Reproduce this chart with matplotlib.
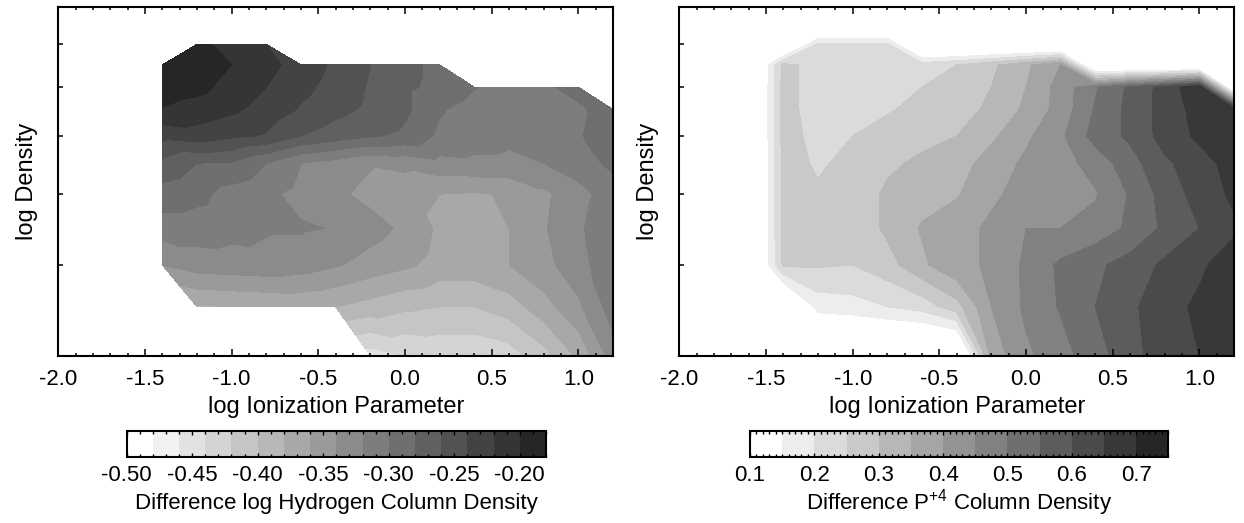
import numpy as np
import matplotlib
matplotlib.use('Agg')
import matplotlib.pyplot as plt
import matplotlib.tri as mtri
import matplotlib.ticker as mticker

plt.rcParams['font.family'] = ['Liberation Sans', 'DejaVu Sans']
plt.rcParams['mathtext.fontset'] = 'custom'
plt.rcParams['mathtext.rm'] = 'Liberation Sans'
plt.rcParams['axes.unicode_minus'] = False

nan = np.nan

# model grid: log U columns and density rows (top to bottom, as axis fraction)
log_u = [-1.4, -1.2, -1.0, -0.8, -0.6, -0.4, -0.2, 0.0, 0.2, 0.4, 0.6, 0.8, 1.0, 1.2]
dens_row = [0.894, 0.835, 0.771, 0.707, 0.631, 0.553, 0.464, 0.366, 0.261, 0.141, 0.0]
dens_ticks = [0.894, 0.771, 0.631, 0.464, 0.261]
xticks = [-2.0, -1.5, -1.0, -0.5, 0.0, 0.5, 1.0]

# difference in log N(H)
h_diff = np.array([
    [nan, -0.194, -0.208, -0.220, nan, nan, nan, nan, nan, nan, nan, nan, nan, nan],
    [-0.184, -0.188, -0.200, -0.214, -0.228, -0.244, -0.260, -0.274, -0.286, nan, nan, nan, nan, nan],
    [-0.190, -0.194, -0.207, -0.220, -0.234, -0.248, -0.262, -0.276, -0.286, -0.299, -0.308, -0.302, -0.296, nan],
    [-0.201, -0.208, -0.216, -0.228, -0.242, -0.254, -0.264, -0.276, -0.298, -0.308, -0.314, -0.312, -0.302, -0.294],
    [-0.234, -0.229, -0.236, -0.242, -0.260, -0.270, -0.278, -0.284, -0.304, -0.312, -0.316, -0.312, -0.301, -0.294],
    [-0.266, -0.280, -0.282, -0.300, -0.320, -0.328, -0.338, -0.334, -0.326, -0.324, -0.324, -0.320, -0.308, -0.296],
    [-0.288, -0.294, -0.308, -0.316, -0.326, -0.336, -0.346, -0.354, -0.360, -0.362, -0.358, -0.344, -0.328, -0.308],
    [-0.310, -0.310, -0.314, -0.318, -0.318, -0.321, -0.332, -0.344, -0.364, -0.366, -0.360, -0.342, -0.324, -0.302],
    [-0.340, -0.330, -0.328, -0.326, -0.330, -0.338, -0.348, -0.356, -0.368, -0.368, -0.360, -0.346, -0.328, -0.304],
    [nan, -0.382, -0.380, -0.378, -0.376, -0.380, -0.388, -0.396, -0.400, -0.400, -0.390, -0.368, -0.344, -0.310],
    [nan, nan, nan, nan, nan, nan, -0.450, -0.440, -0.436, -0.436, -0.430, -0.408, -0.376, -0.330],
])

# difference in P+4 column density
p4_diff = np.array([
    [nan, 0.21, 0.205, 0.21, nan, nan, nan, nan, nan, nan, nan, nan, nan, nan],
    [0.265, 0.23, 0.22, 0.22, 0.225, 0.25, 0.29, 0.34, 0.40, nan, nan, nan, nan, nan],
    [0.27, 0.225, 0.22, 0.225, 0.25, 0.273, 0.30, 0.35, 0.42, 0.495, 0.56, 0.62, 0.69, nan],
    [0.27, 0.225, 0.22, 0.245, 0.265, 0.28, 0.31, 0.36, 0.42, 0.505, 0.565, 0.62, 0.67, 0.69],
    [0.27, 0.235, 0.25, 0.27, 0.285, 0.30, 0.34, 0.39, 0.44, 0.52, 0.56, 0.62, 0.66, 0.68],
    [0.265, 0.245, 0.26, 0.29, 0.31, 0.33, 0.37, 0.41, 0.43, 0.47, 0.53, 0.59, 0.63, 0.67],
    [0.265, 0.255, 0.265, 0.31, 0.33, 0.345, 0.39, 0.42, 0.43, 0.445, 0.505, 0.57, 0.62, 0.66],
    [0.265, 0.26, 0.265, 0.31, 0.355, 0.38, 0.41, 0.45, 0.45, 0.47, 0.51, 0.56, 0.60, 0.64],
    [0.26, 0.255, 0.25, 0.28, 0.34, 0.39, 0.405, 0.46, 0.51, 0.54, 0.57, 0.61, 0.64, 0.68],
    [nan, 0.17, 0.18, 0.20, 0.22, 0.28, 0.40, 0.46, 0.505, 0.55, 0.59, 0.63, 0.66, 0.69],
    [nan, nan, nan, nan, nan, nan, 0.37, 0.44, 0.48, 0.53, 0.58, 0.63, 0.65, 0.69],
])

h_levels = np.linspace(-0.50, -0.18, 17)
p4_levels = np.linspace(0.10, 0.75, 14)
h_ticks = [-0.50, -0.45, -0.40, -0.35, -0.30, -0.25, -0.20]
p4_ticks = [0.1, 0.2, 0.3, 0.4, 0.5, 0.6, 0.7]

# grey ramps, white for the lowest bin
h_colors = [str(g) for g in np.linspace(1.0, 0.15, 16)]
p4_colors = [str(g) for g in np.linspace(1.0, 0.15, 13)]

# zero ring used around the P+4 grid (missing models set to 0)
ring_u = -1.6
ring_row = 0.955


def valid_triangulation(z):
    ok = np.isfinite(z)
    idx = np.full(z.shape, -1)
    idx[ok] = np.arange(ok.sum())
    tris = []
    for j in range(z.shape[0] - 1):
        for i in range(z.shape[1] - 1):
            ring = [idx[j, i], idx[j, i + 1], idx[j + 1, i + 1], idx[j + 1, i]]
            good = [k for k in ring if k >= 0]
            if len(good) == 4:
                tris += [[ring[0], ring[1], ring[2]], [ring[0], ring[2], ring[3]]]
            elif len(good) == 3:
                tris.append(good)
    X, Y = np.meshgrid(log_u, dens_row)
    return mtri.Triangulation(X[ok], Y[ok], tris), z[ok]


fig = plt.figure(figsize=(12.44, 5.23), dpi=100)
ax1 = fig.add_axes([0.0469, 0.3193, 0.4459, 0.6667])
ax2 = fig.add_axes([0.5461, 0.3193, 0.4459, 0.6667])
cax1 = fig.add_axes([0.1018, 0.1262, 0.3371, 0.0497])
cax2 = fig.add_axes([0.6029, 0.1262, 0.3363, 0.0497])

tri, zv = valid_triangulation(h_diff)
cs1 = ax1.tricontourf(tri, zv, levels=h_levels, colors=h_colors)

zr = np.pad(np.nan_to_num(p4_diff, nan=0.0), ((1, 0), (1, 0)))
cs2 = ax2.contourf([ring_u] + log_u, [ring_row] + dens_row, zr,
                   levels=p4_levels, colors=p4_colors)

for ax in (ax1, ax2):
    ax.set_xlim(-2.0, 1.2)
    ax.set_ylim(0, 1)
    ax.set_xticks(xticks)
    ax.xaxis.set_minor_locator(mticker.MultipleLocator(0.1))
    ax.xaxis.set_major_formatter(mticker.FormatStrFormatter('%.1f'))
    ax.set_yticks(dens_ticks)
    ax.set_yticklabels([])
    ax.tick_params(axis='x', which='both', direction='in', top=True, bottom=True,
                   labelsize=16, pad=9, width=1.1)
    ax.tick_params(axis='x', which='major', length=5)
    ax.tick_params(axis='x', which='minor', length=2.5)
    ax.tick_params(axis='y', which='major', direction='in', left=True, right=False,
                   length=3.6, width=1.1)
    for s in ax.spines.values():
        s.set_linewidth(1.5)
    ax.set_xlabel('log Ionization Parameter', fontsize=17, va='center')
    ax.xaxis.set_label_coords(0.5, -0.146)
    ax.set_ylabel('log Density', fontsize=17, va='center')
    ax.yaxis.set_label_coords(-0.056, 0.5)

for cax, cs, ticks, fmt, label in [
        (cax1, cs1, h_ticks, '%.2f', 'Difference log Hydrogen Column Density'),
        (cax2, cs2, p4_ticks, '%.1f', 'Difference P$^{+4}$ Column Density')]:
    cb = fig.colorbar(cs, cax=cax, orientation='horizontal', ticks=ticks)
    cb.outline.set_linewidth(1.5)
    cax.xaxis.set_major_formatter(mticker.FormatStrFormatter(fmt))
    cax.xaxis.set_minor_locator(mticker.MultipleLocator(0.01))
    cax.tick_params(axis='x', which='both', direction='in', top=True, bottom=True,
                    labelsize=16, pad=6, width=1.0)
    cax.tick_params(axis='x', which='major', length=3)
    cax.tick_params(axis='x', which='minor', length=2)
    cax.set_xlabel(label, fontsize=16, va='center')
    cax.xaxis.set_label_coords(0.5, -1.77)

fig.savefig('out.png', dpi=100, facecolor='white')
